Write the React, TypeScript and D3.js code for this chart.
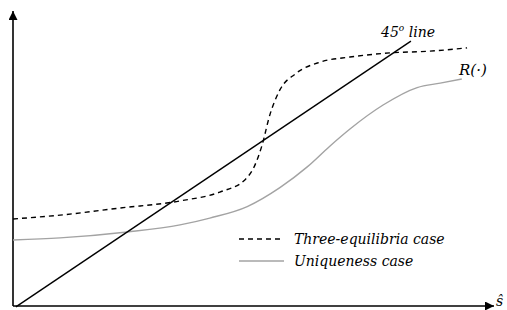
import React from 'react';
import * as d3 from 'd3';

// curve readings (x = s-hat, y = R)
const threeX = [0, 0.98, 2.23, 3.48, 4.31, 4.83, 5.04, 5.19, 5.35, 5.56, 5.88, 6.4, 7.02, 7.85, 8.69, 9.46];
const threeY = [2.94, 3.07, 3.31, 3.55, 3.85, 4.26, 4.76, 5.44, 6.45, 7.3, 7.84, 8.24, 8.41, 8.55, 8.61, 8.72];
const uniqX = [0, 0.98, 2.38, 3.48, 4.1, 4.88, 5.56, 6.13, 6.6, 7.02, 7.71, 8.42, 8.9, 9.35];
const uniqY = [2.23, 2.3, 2.5, 2.74, 2.97, 3.36, 4.0, 4.7, 5.4, 5.98, 6.79, 7.38, 7.53, 7.67];
const diagX = [0.06, 8.29];
const diagY = [-0.03, 8.95];

const legendLabels = ['Three-equilibria case', 'Uniqueness case'];

function App() {
    const w = 507,
        h = 310;

    const x = d3.scaleLinear().domain([0, 10]).range([13, 493]);
    const y = d3.scaleLinear().domain([0, 10]).range([306, 10]);

    const line = d3.line<[number, number]>()
        .x(d => x(d[0]))
        .y(d => y(d[1]))
        .curve(d3.curveMonotoneX);

    const three = threeX.map((v, i) => [v, threeY[i]] as [number, number]);
    const uniq = uniqX.map((v, i) => [v, uniqY[i]] as [number, number]);
    const diag = diagX.map((v, i) => [v, diagY[i]] as [number, number]);

    const font = '"DejaVu Serif", serif';

    return (
        <svg width={w} height={h} style={{ position: 'absolute', left: 0, top: 0 }}>
            <defs>
                <marker id="arr" viewBox="0 0 10 10" refX="10" refY="5" markerWidth="10" markerHeight="9"
                    markerUnits="userSpaceOnUse" orient="auto">
                    <path d="M0,0 L10,5 L0,10 z" fill="#000" />
                </marker>
            </defs>
            {/* axes */}
            <line x1={x(0)} y1={y(0)} x2={x(0)} y2={11} stroke="#000" strokeWidth={1.6} markerEnd="url(#arr)" />
            <line x1={x(0)} y1={y(0)} x2={494} y2={y(0)} stroke="#000" strokeWidth={1.6} markerEnd="url(#arr)" />
            <text x={496} y={306} fontFamily={font} fontStyle="italic" fontSize={14}>ŝ</text>

            {/* curves */}
            <path d={line(uniq) || ''} fill="none" stroke="#a3a3a3" strokeWidth={1.4} />
            <path d={line(three) || ''} fill="none" stroke="#000" strokeWidth={1.4} strokeDasharray="5,4" />
            <path d={d3.line<[number, number]>().x(d => x(d[0])).y(d => y(d[1]))(diag) || ''}
                fill="none" stroke="#000" strokeWidth={1.4} />

            {/* labels */}
            <text x={381} y={37} fontFamily={font} fontStyle="italic" fontSize={14}>
                45<tspan dy={-6} fontSize={9}>o</tspan><tspan dy={6}> line</tspan>
            </text>
            <text x={459} y={75} fontFamily={font} fontStyle="italic" fontSize={15}>R(·)</text>

            {/* legend */}
            <line x1={239} x2={284} y1={239} y2={239} stroke="#000" strokeWidth={1.4} strokeDasharray="5,4" />
            <line x1={239} x2={284} y1={261} y2={261} stroke="#a3a3a3" strokeWidth={1.4} />
            <text x={294} y={244} fontFamily={font} fontStyle="italic" fontSize={14}>{legendLabels[0]}</text>
            <text x={294} y={266} fontFamily={font} fontStyle="italic" fontSize={14}>{legendLabels[1]}</text>
        </svg>
    );
}

export default App;
